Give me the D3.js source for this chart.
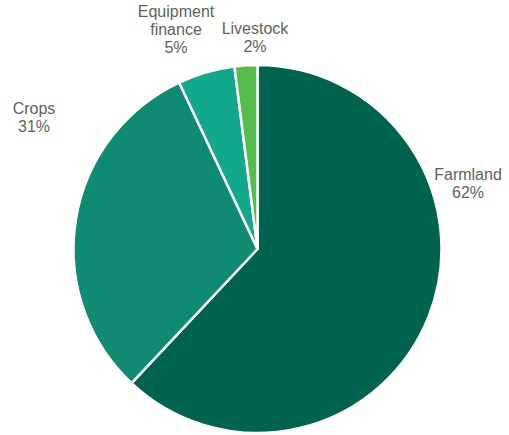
<!DOCTYPE html>
<html>
<head>
<meta charset="utf-8">
<script src="https://cdn.jsdelivr.net/npm/d3@7"></script>
<style>
  body { margin: 0; background: #fff; }
  text { font-family: "Liberation Sans", Arial, sans-serif; }
</style>
</head>
<body>
<div id="chart"></div>
<script>
var categories = ["Farmland", "Crops", "Equipment finance", "Livestock"];
var values = [62, 31, 5, 2];
var colors = ["#00634f", "#0f8a73", "#12a88b", "#55bd4b"];
// label lines and where each label sits (layout only)
var labelLines = [["Farmland", "62%"], ["Crops", "31%"], ["Equipment", "finance", "5%"], ["Livestock", "2%"]];
var labelPos = [[468, 180], [34, 114], [176, 17], [255, 34]];

var width = 509, height = 435;
var cx = 257.5, cy = 249, radius = 184;

var svg = d3.select("#chart")
  .append("svg")
    .attr("width", width)
    .attr("height", height);

var data = categories.map(function(c, i) { return {name: c, value: values[i], i: i}; });

var pie = d3.pie()
  .sort(null)
  .value(function(d) { return d.value; });

var arc = d3.arc()
  .innerRadius(0)
  .outerRadius(radius);

var g = svg.append("g")
  .attr("transform", "translate(" + cx + "," + cy + ")");

g.selectAll("path")
  .data(pie(data))
  .enter()
  .append("path")
    .attr("d", arc)
    .attr("fill", function(d) { return colors[d.data.i]; })
    .attr("stroke", "#fff")
    .attr("stroke-width", 2.5)
    .attr("stroke-linejoin", "round");

// labels
data.forEach(function(d) {
  var t = svg.append("text")
    .attr("x", labelPos[d.i][0])
    .attr("y", labelPos[d.i][1])
    .attr("text-anchor", "middle")
    .attr("fill", "#5f5f5f")
    .attr("font-size", "16px");
  labelLines[d.i].forEach(function(line, k) {
    t.append("tspan")
      .attr("x", labelPos[d.i][0])
      .attr("dy", k == 0 ? 0 : 18)
      .text(line);
  });
});
</script>
</body>
</html>
